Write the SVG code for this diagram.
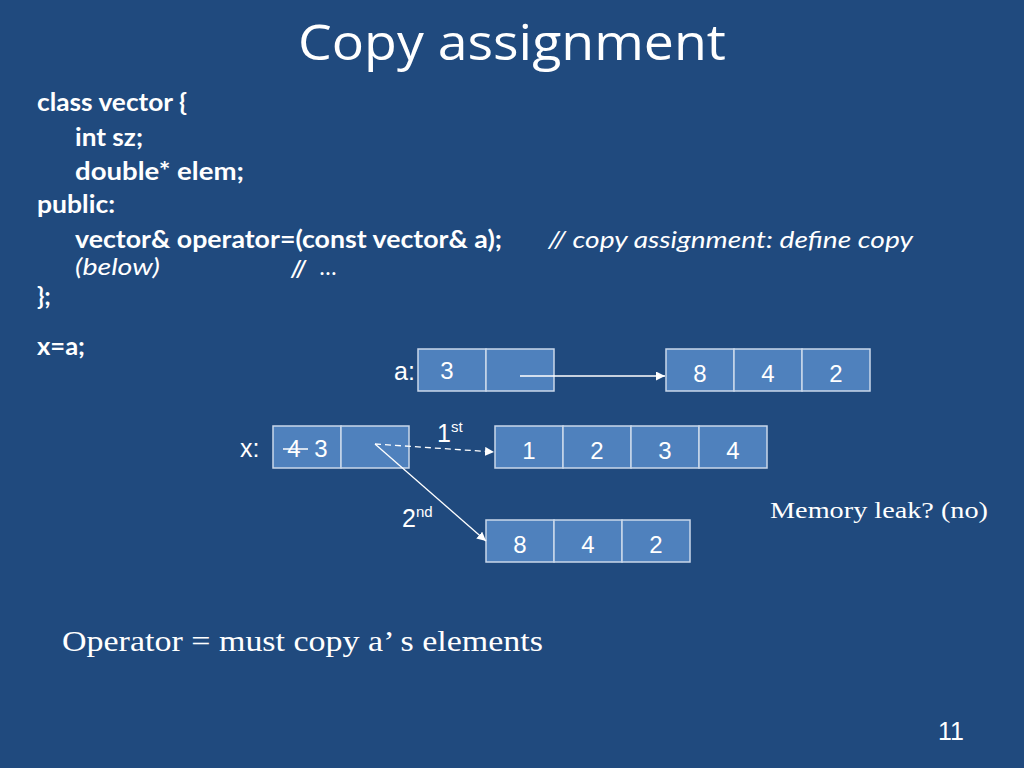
<svg xmlns="http://www.w3.org/2000/svg" width="1024" height="768" viewBox="0 0 1024 768">
<defs>
<style>
.code{font-family:Lato,"Open Sans","Liberation Sans",sans-serif;font-weight:bold;font-size:24px;fill:#fff}
.cmt{font-family:Lato,"Open Sans","Liberation Sans",sans-serif;font-style:italic;font-size:23px;fill:#fff}
.cell{fill:#4f81bd;stroke:#c9d7ea;stroke-width:1.5}
.num{font-family:"Liberation Sans",Arial,sans-serif;font-size:24px;fill:#fff;text-anchor:middle}
.lbl{font-family:"Liberation Sans",Arial,sans-serif;font-size:25px;fill:#fff}
.serif{font-family:"Liberation Serif","Times New Roman",serif;fill:#fff}
.ln{stroke:#fff;stroke-width:1.3;fill:none}
</style>
<marker id="ah" viewBox="0 0 10 10" refX="10" refY="5" markerWidth="9" markerHeight="9" markerUnits="userSpaceOnUse" orient="auto">
<path d="M0,0 L10,5 L0,10 z" fill="#fff"/>
</marker>
</defs>
<rect width="1024" height="768" fill="#204a7e"/>
<text x="512" y="60" text-anchor="middle" font-family="'Open Sans',Lato,'Liberation Sans',sans-serif" font-size="49" fill="#fff" textLength="428" lengthAdjust="spacingAndGlyphs">Copy assignment</text>

<g id="code">
<text class="code" x="37" y="111" textLength="150" lengthAdjust="spacingAndGlyphs">class vector {</text>
<text class="code" x="75" y="146" textLength="68" lengthAdjust="spacingAndGlyphs">int sz;</text>
<text class="code" x="75" y="180" textLength="169" lengthAdjust="spacingAndGlyphs">double* elem;</text>
<text class="code" x="37" y="213" textLength="78" lengthAdjust="spacingAndGlyphs">public:</text>
<text class="code" x="75" y="248" textLength="427" lengthAdjust="spacingAndGlyphs">vector&amp; operator=(const vector&amp; a);</text>
<text class="cmt" x="548" y="248" textLength="365" lengthAdjust="spacingAndGlyphs">// copy assignment: define copy</text>
<text class="cmt" x="75" y="275" font-size="21" textLength="85" lengthAdjust="spacingAndGlyphs">(below)</text>
<text class="cmt" x="291" y="277" font-weight="bold" font-size="25">//</text>
<text class="cmt" x="320" y="275" font-size="19">…</text>
<text class="code" x="37" y="305">};</text>
<text class="code" x="37" y="355" textLength="48" lengthAdjust="spacingAndGlyphs">x=a;</text>
</g>

<g id="vec-a">
<text class="lbl" x="394" y="380">a:</text>
<rect class="cell" x="418" y="349" width="68" height="42"/>
<rect class="cell" x="486" y="349" width="68" height="42"/>
<text class="num" x="447" y="379" font-size="21">3</text>
</g>

<g id="heap-a">
<rect class="cell" x="666" y="349" width="68" height="42"/>
<rect class="cell" x="734" y="349" width="68" height="42"/>
<rect class="cell" x="802" y="349" width="68" height="42"/>
<text class="num" x="700" y="382">8</text>
<text class="num" x="768" y="382">4</text>
<text class="num" x="836" y="382">2</text>
</g>

<g id="vec-x">
<text class="lbl" x="240" y="457">x:</text>
<rect class="cell" x="273" y="426" width="68" height="42"/>
<rect class="cell" x="341" y="426" width="68" height="42"/>
<text class="num" x="294" y="457">4</text>
<line x1="283" y1="449" x2="308" y2="449" stroke="#fff" stroke-width="1.5"/>
<text class="num" x="321" y="457">3</text>
</g>

<g id="heap-x-old">
<rect class="cell" x="495" y="426" width="68" height="42"/>
<rect class="cell" x="563" y="426" width="68" height="42"/>
<rect class="cell" x="631" y="426" width="68" height="42"/>
<rect class="cell" x="699" y="426" width="68" height="42"/>
<text class="num" x="529" y="459">1</text>
<text class="num" x="597" y="459">2</text>
<text class="num" x="665" y="459">3</text>
<text class="num" x="733" y="459">4</text>
</g>

<g id="heap-x-new">
<rect class="cell" x="486" y="520" width="68" height="42"/>
<rect class="cell" x="554" y="520" width="68" height="42"/>
<rect class="cell" x="622" y="520" width="68" height="42"/>
<text class="num" x="520" y="553">8</text>
<text class="num" x="588" y="553">4</text>
<text class="num" x="656" y="553">2</text>
</g>

<g id="connectors">
<line class="ln" x1="520" y1="376" x2="665" y2="376" marker-end="url(#ah)"/>
<line class="ln" x1="375" y1="444" x2="494" y2="452" stroke-dasharray="6,4" marker-end="url(#ah)"/>
<line class="ln" x1="375" y1="444" x2="486" y2="541" marker-end="url(#ah)"/>
</g>

<g id="labels">
<text class="lbl" x="437" y="442" font-size="23">1<tspan font-size="15" dy="-10">st</tspan></text>
<text class="lbl" x="402" y="527" font-size="23">2<tspan font-size="15" dy="-10">nd</tspan></text>
<text class="serif" x="770" y="518" font-size="23" textLength="218" lengthAdjust="spacingAndGlyphs">Memory leak? (no)</text>
<text class="serif" x="62" y="651" font-size="29" textLength="481" lengthAdjust="spacingAndGlyphs">Operator = must copy a’ s elements</text>
<text class="lbl" x="951" y="740" font-size="15" text-anchor="middle">11</text>
</g>
</svg>
